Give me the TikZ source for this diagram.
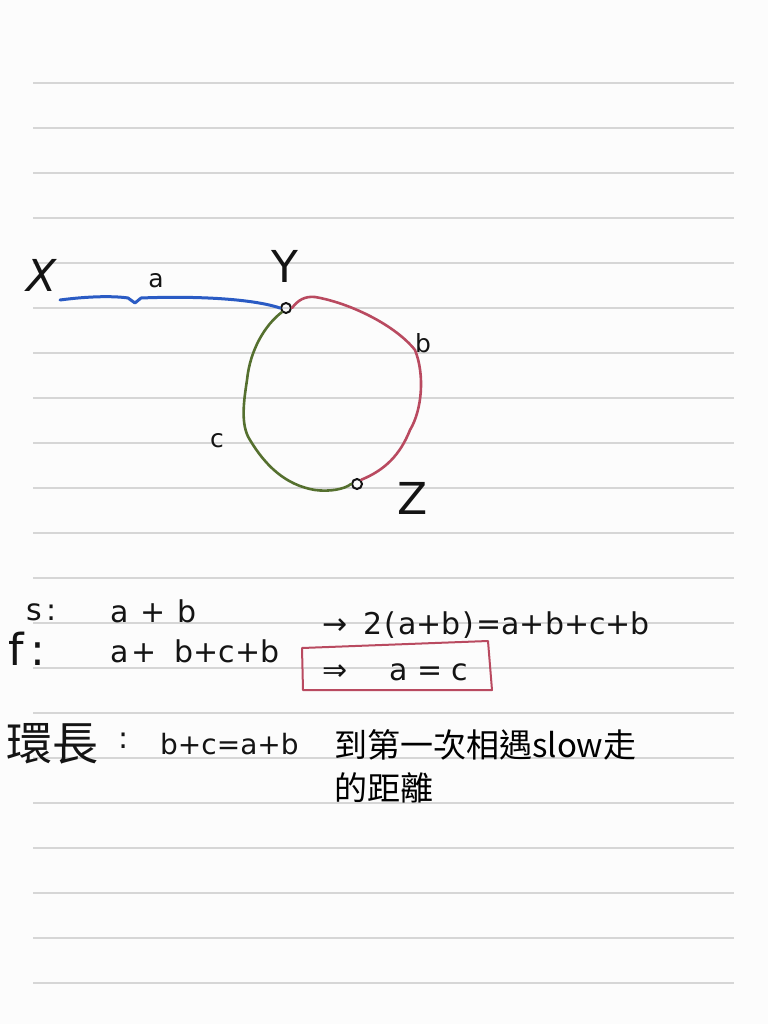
\documentclass[tikz,border=0pt]{standalone}
\usepackage{fontspec}
\setmainfont{DejaVu Sans}
\newfontfamily\cjk{Noto Sans CJK TC}
\newfontfamily\hand{DejaVu Sans}
\definecolor{paper}{HTML}{FCFCFC}
\definecolor{rule}{HTML}{D6D6D6}
\definecolor{pblue}{HTML}{2A5BC4}
\definecolor{pred}{HTML}{B94A60}
\definecolor{pgreen}{HTML}{55702F}
\definecolor{ink}{HTML}{141414}
\begin{document}
\begin{tikzpicture}[x=1pt,y=-1pt,
  ruleline/.style={rule,line width=1.6pt},
  pen/.style={line width=3pt,line cap=round,line join=round},
  lbl/.style={inner sep=0pt,text=ink,font=\hand\fontsize{25}{27}\selectfont},
  big/.style={inner sep=0pt,text=ink,font=\hand\fontsize{44}{46}\selectfont},
  eq/.style={inner sep=0pt,anchor=base west,text=ink,font=\hand\fontsize{30}{32}\selectfont},
  typed/.style={inner sep=0pt,anchor=base west,text=black,font=\cjk\fontsize{33}{36}\selectfont},
  pt/.style={circle,draw=ink,line width=2pt,inner sep=0pt,minimum size=10pt}]
\fill[paper] (0,0) rectangle (768,1024);
\useasboundingbox (0,0) rectangle (768,1024);
\foreach \k in {0,...,20} {\draw[ruleline] (33,83+45*\k) -- (734,83+45*\k);}
% points
\node[pt] (Y) at (286,308) {};
\node[pt] (Z) at (357,484) {};
\coordinate (X0) at (60,300);
% blue segment a
\draw[pen,pblue] (X0) .. controls (90,296) and (115,296) .. (128,298)
  -- (135,303) -- (141,298) .. controls (190,296) and (250,298) .. (Y.west);
% red arc b
\draw[pen,pred,line width=2.6pt] (Y.east) .. controls (298,300) and (305,296) .. (315,297)
  .. controls (350,303) and (395,325) .. (415,350)
  .. controls (425,375) and (422,410) .. (410,430)
  .. controls (400,455) and (385,470) .. (Z.north east);
% green arc c
\draw[pen,pgreen,line width=2.6pt] (Y.south west) .. controls (265,325) and (250,350) .. (247,380)
  .. controls (244,400) and (240,425) .. (250,440)
  .. controls (265,465) and (285,485) .. (315,490)
  .. controls (330,492) and (345,489) .. (Z.west);
% labels
\node[big] (lx) at (42,275) {\itshape X};
\node[lbl] (la) at (156,281) {a};
\node[big] (ly) at (285,266) {Y};
\node[lbl] (lb) at (423,343) {b};
\node[lbl] (lc) at (217,441) {c};
\node[big] (lz) at (413,498) {Z};
% equations
\node[eq] (s) at (26,620) {s\,:};
\node[eq] (sab) at (110,622) {a\hspace{12pt}+\hspace{12pt}b};
\node[eq,font=\hand\fontsize{44}{46}\selectfont] (f) at (8,665) {f\,:};
\node[eq] (fab) at (110,662) {a\hspace{3pt}+\hspace{18pt}b+c+b};
\node[eq] (imp) at (322,634) {→\hspace{16pt}2\hspace{2pt}(\hspace{2pt}a+b\hspace{2pt})\hspace{2pt}=a+b+c+b};
\node[eq] (res) at (322,680) {⇒\hspace{42pt}a = c};
\draw[pred,line width=2pt,line cap=round,line join=round] (302,648) -- (488,641) -- (492,690) -- (303,690) -- cycle;
\node[eq,font=\cjk\fontsize{46}{48}\selectfont] (ring) at (6,760) {環長};
\node[eq] (rc) at (118,748) {:};
\node[eq,font=\hand\fontsize{28}{30}\selectfont] (req) at (160,754) {b+c=a+b};
\node[typed] (t1) at (334,757) {到第一次相遇slow走};
\node[typed] (t2) at (334,800) {的距離};
\end{tikzpicture}
\end{document}
